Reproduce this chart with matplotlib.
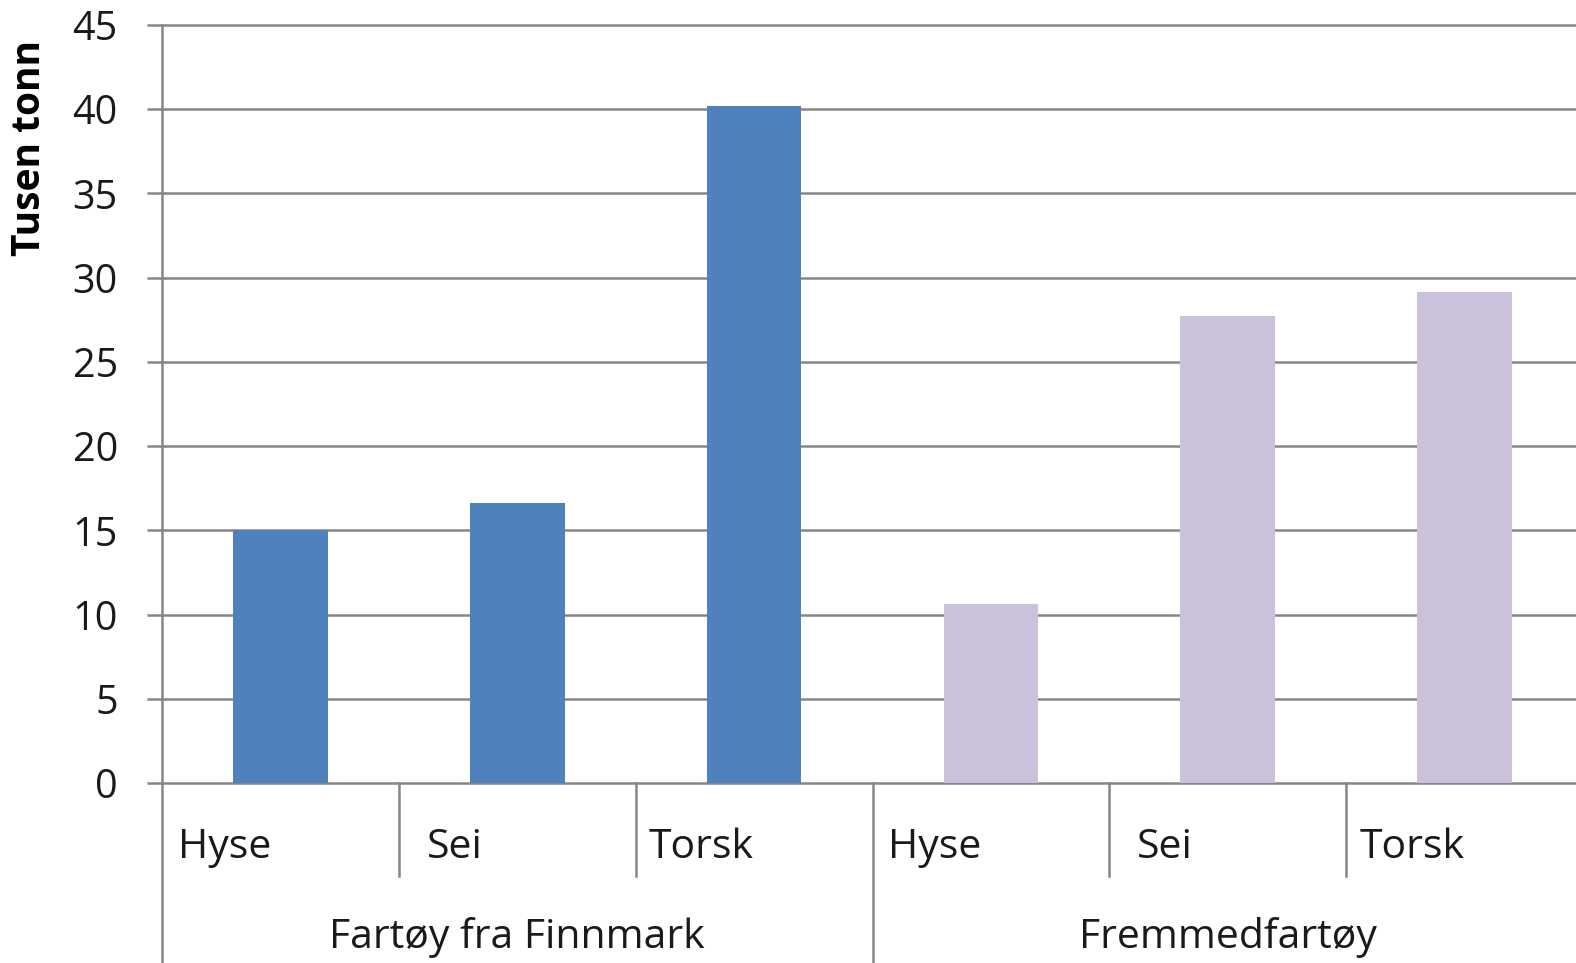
import matplotlib
matplotlib.use("Agg")
import matplotlib.pyplot as plt
import matplotlib.transforms as mtrans

plt.rcParams['font.family'] = ['Open Sans', 'DejaVu Sans']

groups = ["Fartøy fra Finnmark", "Fremmedfartøy"]
species = ["Hyse", "Sei", "Torsk"]
finnmark = [15.0, 16.6, 40.2]
fremmed = [10.6, 27.7, 29.15]
yticks = [0, 5, 10, 15, 20, 25, 30, 35, 40, 45]
ylabel = "Tusen tonn"

W, H, DPI = 1576, 963, 100
fig = plt.figure(figsize=(W / DPI, H / DPI), dpi=DPI)
left_px, right_px, top_px, bot_px = 162, 1583, 25, 783
ax = fig.add_axes([left_px / W, (H - bot_px) / H, (right_px - left_px) / W, (bot_px - top_px) / H])

grid_c = "#868686"
text_c = "#1a1a1a"
colors = ["#4F81BD", "#CCC1DA"]
values = [finnmark, fremmed]

n_per = len(species)
for g, vals in enumerate(values):
    xs = [g * n_per + i + 0.5 for i in range(n_per)]
    ax.bar(xs, vals, width=0.4, color=colors[g], zorder=3)

ax.set_xlim(0, len(groups) * n_per)
ax.set_ylim(0, 45)
ax.set_yticks(yticks)
ax.set_yticklabels([str(t) for t in yticks])
for t in yticks:
    ax.axhline(t, color=grid_c, lw=1.8, zorder=1, clip_on=False)

for s in ["top", "right", "bottom"]:
    ax.spines[s].set_visible(False)
ax.spines["left"].set_color(grid_c)
ax.spines["left"].set_linewidth(1.8)
ax.tick_params(axis="y", direction="out", length=10.8, width=1.8, color=grid_c,
               labelsize=28.5, labelcolor=text_c, pad=21)
ax.set_xticks([])

# category separators below axis
trans = mtrans.blended_transform_factory(ax.transData, fig.transFigure)
n_cat = len(groups) * n_per
for k in range(n_cat + 1):
    y_end = 0.0 if k % n_per == 0 else (H - 876) / H
    ax.plot([k, k], [(H - bot_px) / H, y_end], transform=trans, color=grid_c,
            lw=1.8, clip_on=False, zorder=2)

# category labels (left aligned inside each cell)
pads = [0.066, 0.118, 0.056]
for g in range(len(groups)):
    for i, sp in enumerate(species):
        k = g * n_per + i
        ax.text(k + pads[i], (H - 858) / H, sp, transform=trans, ha="left",
                va="baseline", fontsize=29.5, color=text_c)
    ax.text(g * n_per + n_per / 2, (H - 948) / H, groups[g], transform=trans,
            ha="center", va="baseline", fontsize=29.5, color=text_c)

fig.text(30 / W, (H - 148) / H, ylabel, rotation=90, ha="center", va="center",
         fontsize=28, fontweight="bold", color="black")

fig.savefig("out.png", dpi=DPI)
